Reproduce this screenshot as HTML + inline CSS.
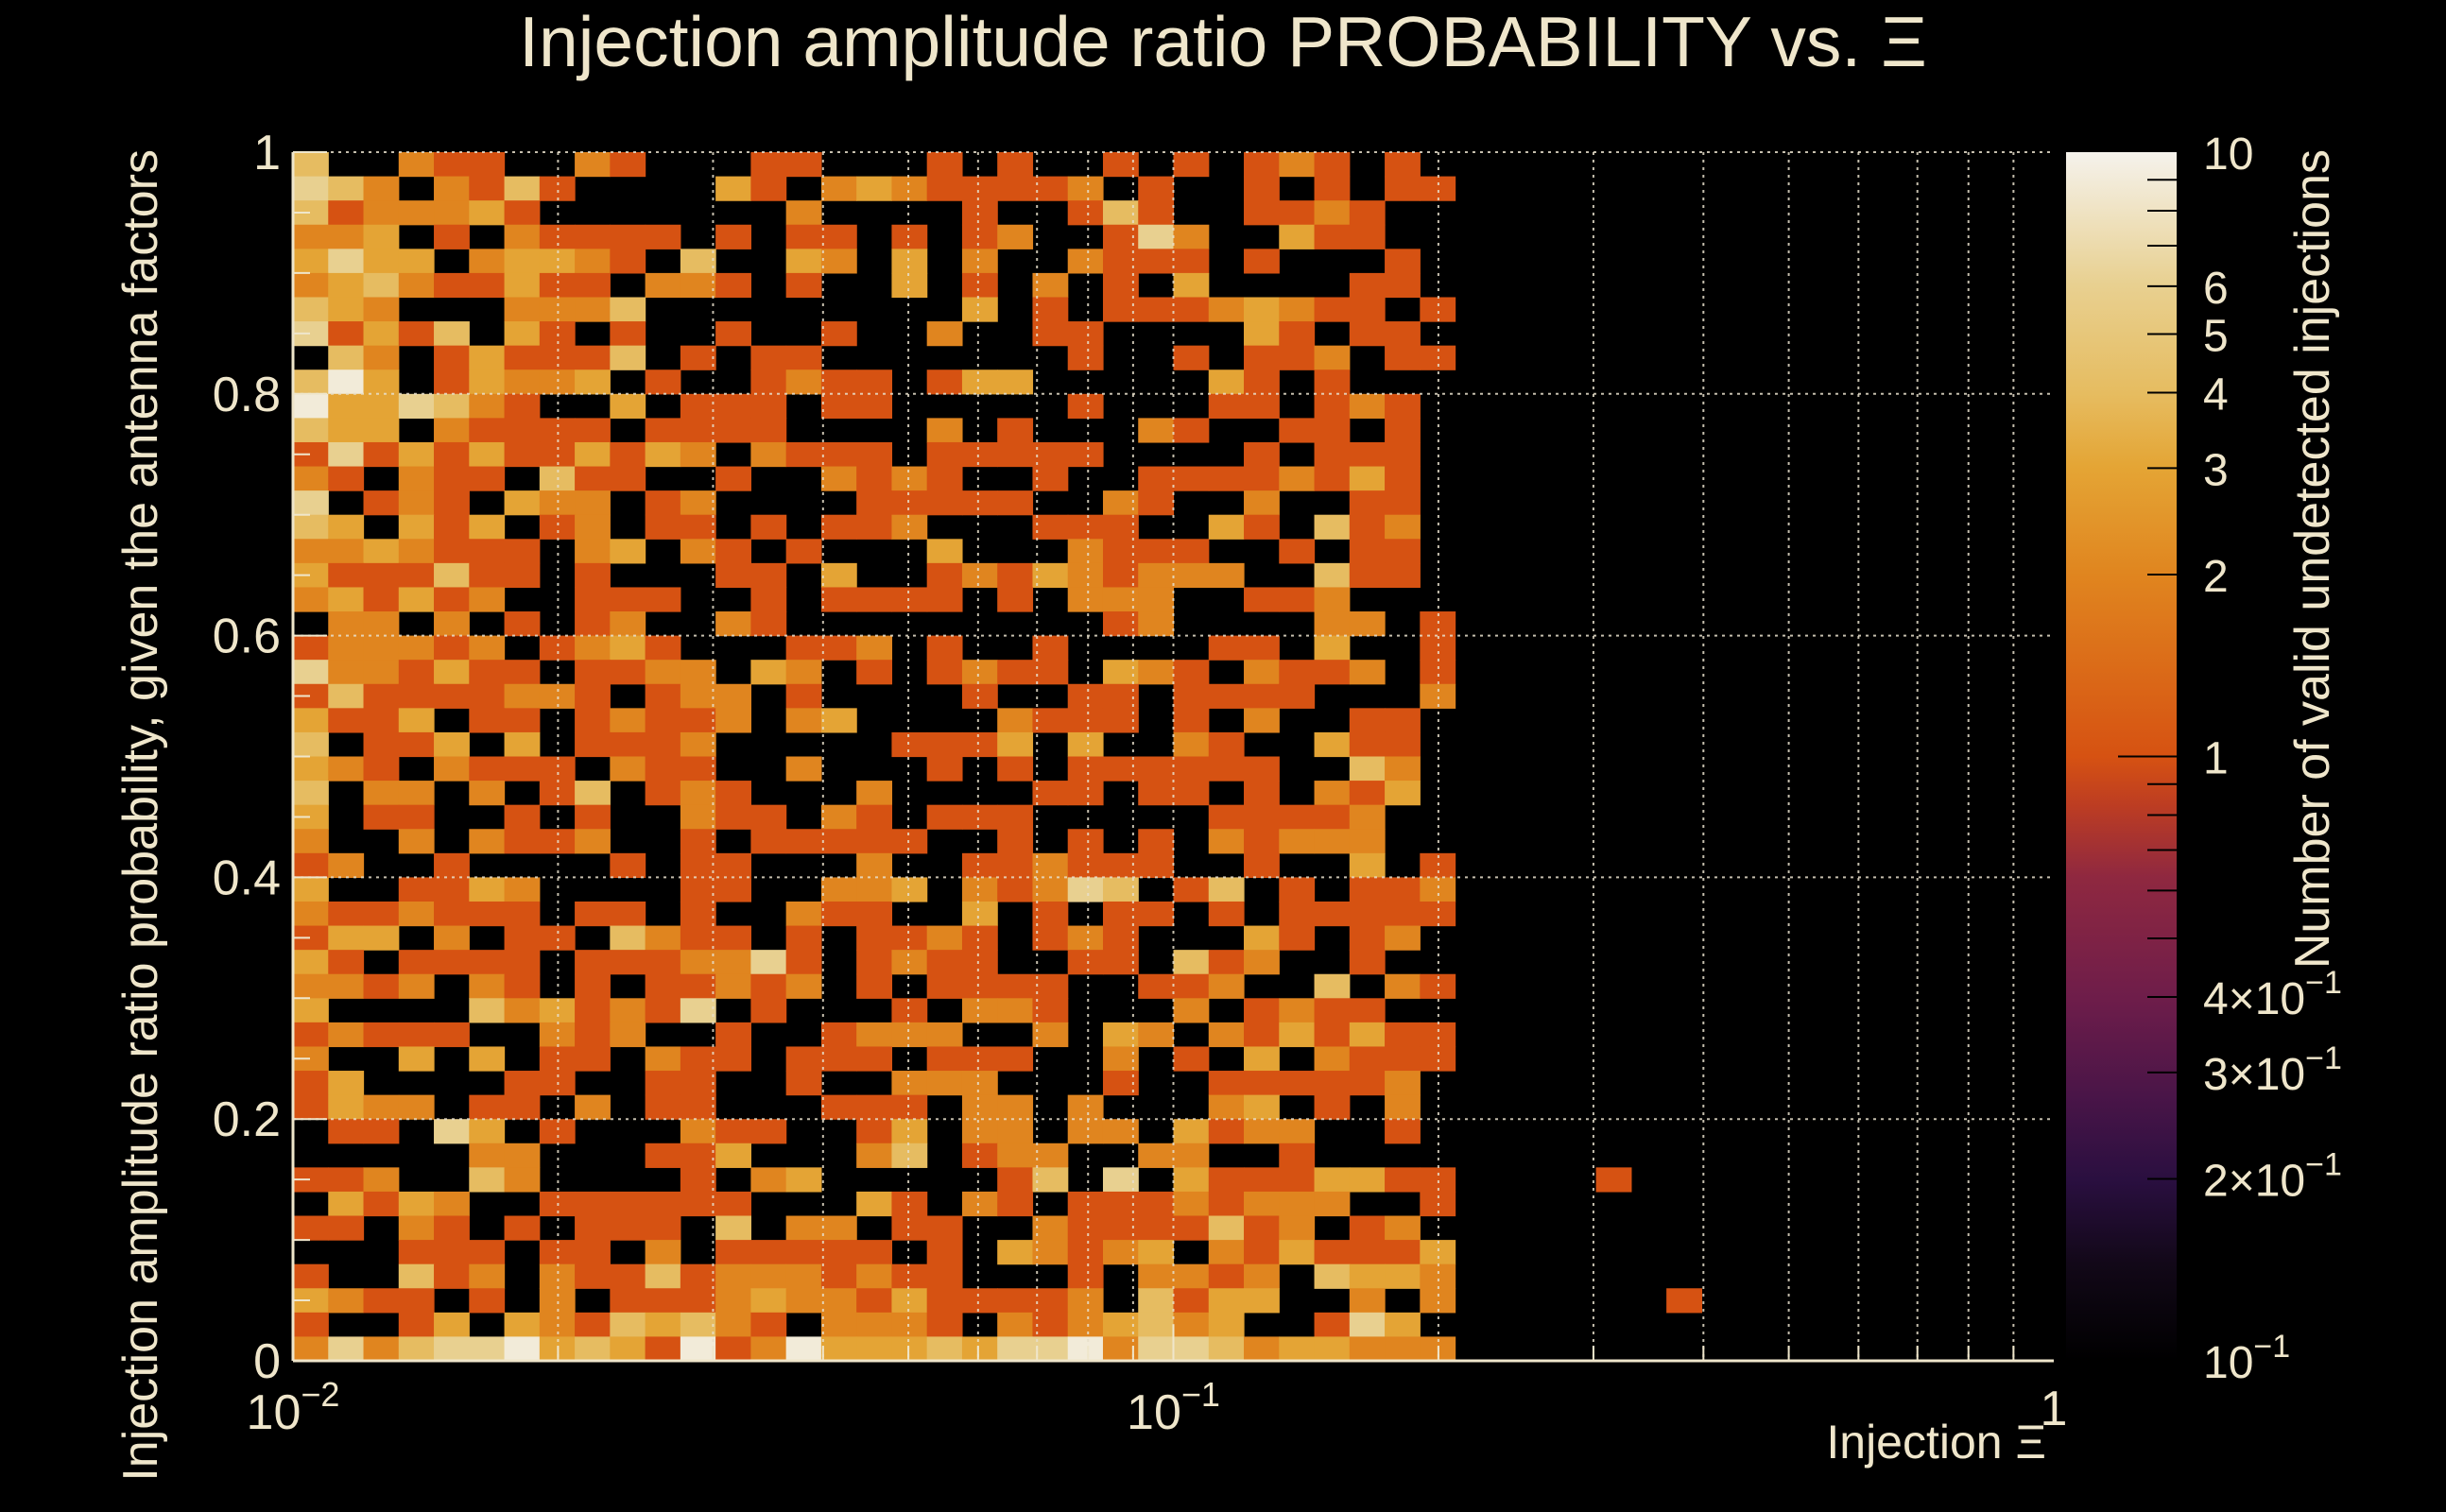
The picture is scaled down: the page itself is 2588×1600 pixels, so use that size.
<!DOCTYPE html>
<html><head><meta charset="utf-8"><style>
html,body{margin:0;padding:0;background:#000;}
svg{display:block;}
text{font-family:"Liberation Sans",sans-serif;fill:#efe6cb;}
</style></head><body>
<svg id="chart" width="2588" height="1600" viewBox="0 0 2588 1600" xmlns="http://www.w3.org/2000/svg">
<defs>
<linearGradient id="cbgrad" x1="0" y1="1" x2="0" y2="0">
<stop offset="0" stop-color="#000000"/>
<stop offset="0.08" stop-color="#120818"/>
<stop offset="0.15" stop-color="#2a0f40"/>
<stop offset="0.22" stop-color="#4a1548"/>
<stop offset="0.3" stop-color="#6e1d4a"/>
<stop offset="0.4" stop-color="#8f2840"/>
<stop offset="0.46" stop-color="#bd3d22"/>
<stop offset="0.5" stop-color="#d65212"/>
<stop offset="0.65" stop-color="#e0851f"/>
<stop offset="0.74" stop-color="#e4a535"/>
<stop offset="0.8" stop-color="#e6bc60"/>
<stop offset="0.89" stop-color="#e8d090"/>
<stop offset="1" stop-color="#f5f2ec"/>
</linearGradient>
</defs>
<text x="1294" y="70" font-size="75" text-anchor="middle">Injection amplitude ratio PROBABILITY vs.  Ξ</text>
<g id="cells"></g>
<g id="grid"></g>
<g id="axes"></g>
<g id="colorbar"></g>
<text transform="translate(166,158) rotate(-90)" font-size="52" text-anchor="end">Injection amplitude ratio probability, given the antenna factors</text>
<text transform="translate(2464,158) rotate(-90)" font-size="52" text-anchor="end">Number of valid undetected injections</text>
<text x="2165" y="1543" font-size="50" text-anchor="end">Injection Ξ</text>
</svg>
<script>
const levelRows = [
"400211002100011000101001010121010",
"542021410000310232111120100101011",
"412223100000002000010014100112100",
"223010211110101101012001520031100",
"353302332104003203020021110100010",
"234211311022101003010201030000110",
"432000222400000000030101112321101",
"513140310100100100200110000310110",
"042013111401011000000010010112011",
"463013223010012110133000003101000",
"633542100301110110000010001101210",
"433021111011110000201000210011010",
"151313113132021110111110000101110",
"210211041100100212100100111121310",
"501210322012000011111002100200110",
"430313012011010112000111003104120",
"223211102302101000300021110010110",
"311141101000110300121321222004110",
"231312001110010111101022200112000",
"022020101200210000000001200002201",
"122212012310001120100100001103001",
"522131101122032010121103210211201",
"141111221012201000010011011110002",
"311301101211202300002111010200110",
"401130301112000001113030021003110",
"321021110211002000101011111100420",
"402202014012100020000110110102130",
"301100101002110210111000001111200",
"200202112001011111001010102122200",
"120010000101100020011211100100301",
"300113200001100223021254014010112",
"211211101101002110030101101011111",
"133020110421101011210121000310120",
"310111101112251012110011041200100",
"221202101011212010111100112004021",
"300004231215010001022100020121100",
"121110021200100122200203202131311",
"200303011021101110111002010302111",
"130000110011001002220001001111120",
"132201102011000111022020002301020",
"011053010002110013022022031220010",
"000002200011300024012200220010000",
"112004200001023000001405031113311",
"031320011111100031021011121222001",
"110210101110402201100211114120120",
"000111011020111110103212302131113",
"100412021141222121100010221204332",
"321101020111232213111120413300202",
"100130321434210222102123423001530",
"252455634316126333435562554233222"
];
const levelValues = [0,1,2,3,4,6,9];
const extraX = [37, 39];
const extraRow = [42, 47];
const extraCount = [1, 1];
const xTickValues = [0.01, 0.1, 1];
const xTickExp = ["−2", "−1", ""];
const yTickValues = [0, 0.2, 0.4, 0.6, 0.8, 1];
const yTickLabels = ["0", "0.2", "0.4", "0.6", "0.8", "1"];
const cbMajor = [10, 6, 5, 4, 3, 2, 1, 0.4, 0.3, 0.2, 0.1];
const cbLabels = ["10", "6", "5", "4", "3", "2", "1", "4×10", "3×10", "2×10", "10"];
const cbLabelExp = ["", "", "", "", "", "", "", "−1", "−1", "−1", "−1"];

const NS = "http://www.w3.org/2000/svg";
const PL = 310, PR = 2173, PT = 161, PB = 1440;
const NX = 50, NY = 50;
const xMinLog = -2, xMaxLog = 0;
function xs(v){ return PL + (Math.log10(v) - xMinLog) / (xMaxLog - xMinLog) * (PR - PL); }
function ys(v){ return PB - v * (PB - PT); }
function xBinEdge(i){ return Math.pow(10, xMinLog + i * (xMaxLog - xMinLog) / NX); }
const CBL = 2186, CBR = 2303, CBT = 161, CBB = 1440;
function cs(v){ return CBB - (Math.log10(v) + 1) / 2 * (CBB - CBT); }

const stops = [[0,[0,0,0]],[0.08,[0x12,0x08,0x18]],[0.15,[0x2a,0x0f,0x40]],[0.22,[0x4a,0x15,0x48]],[0.3,[0x6e,0x1d,0x4a]],[0.4,[0x8f,0x28,0x40]],[0.46,[0xbd,0x3d,0x22]],[0.5,[0xd6,0x52,0x12]],[0.65,[0xe0,0x85,0x1f]],[0.74,[0xe4,0xa5,0x35]],[0.8,[0xe6,0xbc,0x60]],[0.89,[0xe8,0xd0,0x90]],[1,[0xf5,0xf2,0xec]]];
function color(v){
  let t = (Math.log10(v) + 1) / 2; t = Math.max(0, Math.min(1, t));
  for (let i = 1; i < stops.length; i++){
    if (t <= stops[i][0]){
      const a = stops[i-1], b = stops[i], f = (t - a[0]) / (b[0] - a[0]);
      const c = a[1].map((x, k) => Math.round(x + (b[1][k] - x) * f));
      return "rgb(" + c.join(",") + ")";
    }
  }
  return "rgb(245,242,236)";
}
function mk(tag, attrs, parent){
  const e = document.createElementNS(NS, tag);
  for (const k in attrs) e.setAttribute(k, attrs[k]);
  parent.appendChild(e); return e;
}
const cells = document.getElementById("cells");
function drawCell(ix, rowTop, val){
  if (val <= 0) return;
  const yb = NY - 1 - rowTop;
  const x0 = xs(xBinEdge(ix)), x1 = xs(xBinEdge(ix + 1));
  const y0 = ys((yb + 1) / NY), y1 = ys(yb / NY);
  const r = mk("rect", {x: x0.toFixed(2), y: y0.toFixed(2), width: (x1 - x0 + 0.6).toFixed(2), height: (y1 - y0 + 0.6).toFixed(2), fill: color(val)}, cells);
  
  
}
levelRows.forEach((row, r) => {
  for (let i = 0; i < row.length; i++) drawCell(i, r, levelValues[+row[i]]);
});
extraX.forEach((x, k) => drawCell(x, extraRow[k], extraCount[k]));

const grid = document.getElementById("grid");
for (let d = -2; d < 0; d++){
  for (let m = 1; m <= 9; m++){
    const v = m * Math.pow(10, d);
    if (v <= 0.01) continue;
    const gl = mk("line", {x1: xs(v), x2: xs(v), y1: PT, y2: PB, stroke: "#e8e0cc", "stroke-width": 2, "stroke-dasharray": "3 5", opacity: 0.85}, grid);
    
    
  }
}
yTickValues.forEach(v => {
  if (v === 0) return;
  const gl = mk("line", {x1: PL, x2: PR, y1: ys(v), y2: ys(v), stroke: "#e8e0cc", "stroke-width": 2, "stroke-dasharray": "3 5", opacity: 0.85}, grid);
  
  
});

const axes = document.getElementById("axes");
const xl = mk("line", {x1: PL, x2: PR, y1: PB, y2: PB, stroke: "#efe6cb", "stroke-width": 3}, axes);


const yl = mk("line", {x1: PL, x2: PL, y1: PT, y2: PB, stroke: "#efe6cb", "stroke-width": 3}, axes);


for (let d = -2; d < 0; d++){
  for (let m = 1; m <= 9; m++){
    const v = m * Math.pow(10, d);
    const len = m === 1 ? 38 : 16;
    const t = mk("line", {x1: xs(v), x2: xs(v), y1: PB, y2: PB - len, stroke: "#efe6cb", "stroke-width": 2}, axes);
    
    
  }
}
for (let k = 0; k <= 20; k++){
  const v = k * 0.05;
  const len = (k % 4 === 0) ? 36 : 18;
  const t = mk("line", {x1: PL, x2: PL + len, y1: ys(v), y2: ys(v), stroke: "#efe6cb", "stroke-width": 2}, axes);
  
  
}
yTickValues.forEach((v, i) => {
  const t = mk("text", {x: 297, y: ys(v) + 18, "font-size": 52, "text-anchor": "end"}, axes);
  t.textContent = yTickLabels[i];
  
  
});
xTickValues.forEach((v, i) => {
  const t = mk("text", {x: xs(v), y: 1512, "font-size": 52, "text-anchor": "middle"}, axes);
  if (xTickExp[i]){
    t.textContent = "10";
    const s = mk("tspan", {dy: -24, "font-size": 36}, t);
    s.textContent = xTickExp[i];
  } else { t.setAttribute("y", 1508); t.textContent = "1"; }
  
  
});

const cb = document.getElementById("colorbar");
const bar = mk("rect", {x: CBL, y: CBT, width: CBR - CBL, height: CBB - CBT, fill: "url(#cbgrad)"}, cb);


for (let d = -1; d < 1; d++){
  for (let m = 1; m <= 9; m++){
    const v = m * Math.pow(10, d);
    if (v <= 0.1) continue;
    const len = (m === 1) ? 62 : 31;
    const t = mk("line", {x1: CBR - len, x2: CBR, y1: cs(v), y2: cs(v), stroke: "#000", "stroke-width": 2}, cb);
    
    
  }
}
cbMajor.forEach((v, i) => {
  const t = mk("text", {x: 2331, y: cs(v) + 18, "font-size": 48}, cb);
  t.textContent = cbLabels[i];
  if (cbLabelExp[i]){
    const s = mk("tspan", {dy: -22, "font-size": 34}, t);
    s.textContent = cbLabelExp[i];
  }
  
  
});
</script>
</body></html>
